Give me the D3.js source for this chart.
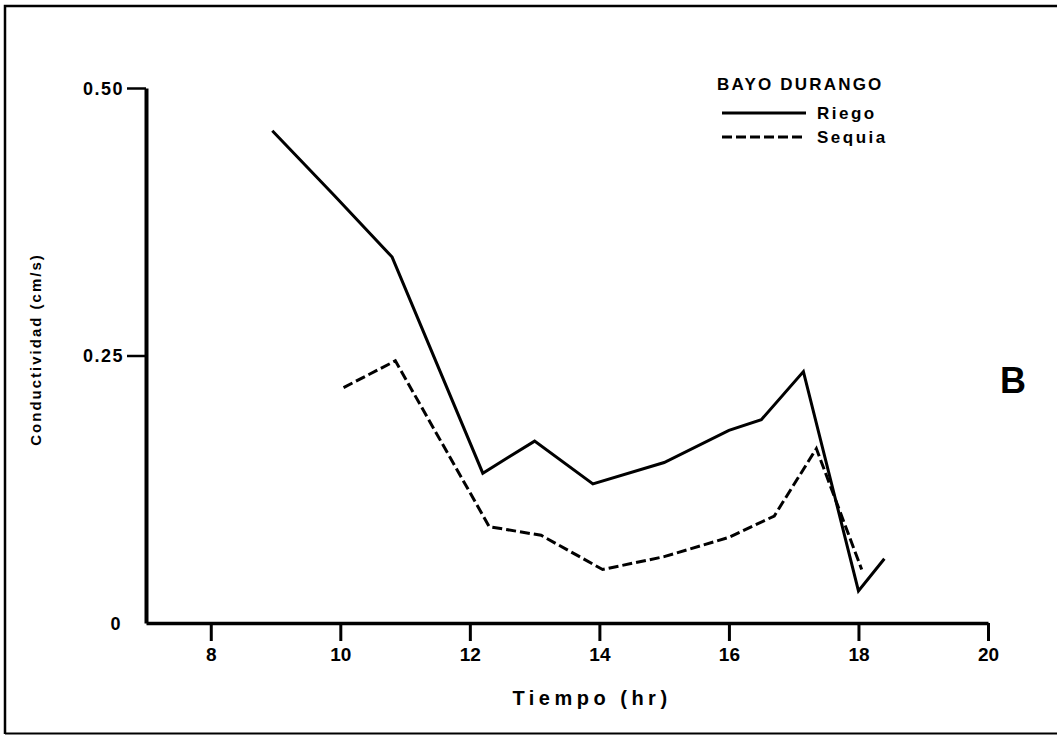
<!DOCTYPE html>
<html>
<head>
<meta charset="utf-8">
<script src="https://cdn.jsdelivr.net/npm/d3@7"></script>
<style>
  body { margin: 0; background: #fff; }
  svg { display: block; }
  text { font-family: "Liberation Sans", Arial, sans-serif; font-weight: bold; fill: #000; }
</style>
</head>
<body>
<svg id="chart" width="1057" height="736"></svg>
<script>
// Stomatal conductance through the day, Bayo Durango bean
const riegoHora = [8.95, 9.9, 10.8, 12.2, 13.0, 13.9, 15.0, 16.0, 16.5, 17.15, 18.0, 18.4];
const riegoCond = [0.46, 0.40, 0.342, 0.14, 0.17, 0.13, 0.15, 0.18, 0.19, 0.235, 0.03, 0.06];
const sequiaHora = [10.05, 10.85, 12.3, 13.1, 14.05, 15.0, 16.0, 16.7, 17.35, 18.05];
const sequiaCond = [0.22, 0.245, 0.09, 0.082, 0.05, 0.062, 0.08, 0.10, 0.163, 0.05];

const xTicks = [8, 10, 12, 14, 16, 18, 20];
const yTicks = [0, 0.25, 0.5];
const yTickLabels = ["0", "0.25", "0.50"];

const legendTitle = "BAYO DURANGO";
const seriesNames = ["Riego", "Sequia"];

const svg = d3.select("#chart");

svg.append("rect").attr("width", 1057).attr("height", 736).attr("fill", "#fff");

// outer frame (open on the right)
svg.append("path")
  .attr("d", "M5,734 V6 H1057")
  .attr("fill", "none").attr("stroke", "#000").attr("stroke-width", 2.5);
svg.append("path")
  .attr("d", "M5,733.5 H1057")
  .attr("fill", "none").attr("stroke", "#000").attr("stroke-width", 2);

const x = d3.scaleLinear().domain([7, 20]).range([146, 988]);
const y = d3.scaleLinear().domain([0, 0.5]).range([623, 88]);

const condensed = "\"DejaVu Sans Condensed\", \"Liberation Sans Narrow\", \"Liberation Sans\", sans-serif";

// x axis
const gx = svg.append("g")
  .attr("transform", `translate(0,${y(0)})`)
  .call(d3.axisBottom(x).tickValues(xTicks).tickSize(18).tickSizeOuter(0).tickPadding(7).tickFormat(d3.format("d")));
gx.select(".domain").attr("stroke-width", 3.5);
gx.selectAll(".tick line").attr("stroke-width", 3);
gx.selectAll(".tick text").attr("font-size", 19).attr("font-family", condensed);

// y axis
const gy = svg.append("g")
  .attr("transform", `translate(${x(7)},0)`)
  .call(d3.axisLeft(y).tickValues(yTicks).tickSize(19).tickSizeOuter(0).tickPadding(3)
    .tickFormat((d, i) => yTickLabels[i]));
gy.select(".domain").attr("stroke-width", 4);
gy.selectAll(".tick line").attr("stroke-width", 2.5)
  .filter(d => d === 0).remove();
gy.selectAll(".tick text").attr("font-size", 18).attr("letter-spacing", 1.5)
  .attr("font-family", "\"DejaVu Sans\", sans-serif").attr("dy", "0.36em");
gy.selectAll(".tick").filter(d => d === 0).select("text").attr("x", -24);

// axis titles
svg.append("text")
  .attr("transform", `translate(41,${(y(0) + y(0.5)) / 2 - 6}) rotate(-90)`)
  .attr("text-anchor", "middle")
  .attr("font-size", 15)
  .attr("letter-spacing", 2)
  .text("Conductividad (cm/s)");

svg.append("text")
  .attr("x", 592).attr("y", 705)
  .attr("text-anchor", "middle")
  .attr("font-size", 20)
  .attr("letter-spacing", 4.5)
  .text("Tiempo (hr)");

// series
const line = d3.line().x(d => x(d[0])).y(d => y(d[1]));
const riego = riegoHora.map((h, i) => [h, riegoCond[i]]);
const sequia = sequiaHora.map((h, i) => [h, sequiaCond[i]]);

svg.append("path").datum(sequia)
  .attr("d", line)
  .attr("fill", "none").attr("stroke", "#000").attr("stroke-width", 3)
  .attr("stroke-dasharray", "10,4");

svg.append("path").datum(riego)
  .attr("d", line)
  .attr("fill", "none").attr("stroke", "#000").attr("stroke-width", 3)
  .attr("stroke-linejoin", "miter");

// legend
const lg = svg.append("g");
lg.append("text").attr("x", 717).attr("y", 90).attr("font-size", 17).attr("letter-spacing", 2.2).text(legendTitle);
const dashes = [null, "10,4"];
seriesNames.forEach((name, i) => {
  const ly = 113 + i * 24;
  lg.append("line").attr("x1", 722).attr("x2", 806).attr("y1", ly).attr("y2", ly)
    .attr("stroke", "#000").attr("stroke-width", 3)
    .attr("stroke-dasharray", dashes[i]);
  lg.append("text").attr("x", 817).attr("y", ly + 6).attr("font-size", 17).attr("letter-spacing", 2.5).text(name);
});

// panel letter
svg.append("text")
  .attr("x", 1013).attr("y", 393)
  .attr("text-anchor", "middle")
  .attr("font-size", 36)
  .text("B");
</script>
</body>
</html>
